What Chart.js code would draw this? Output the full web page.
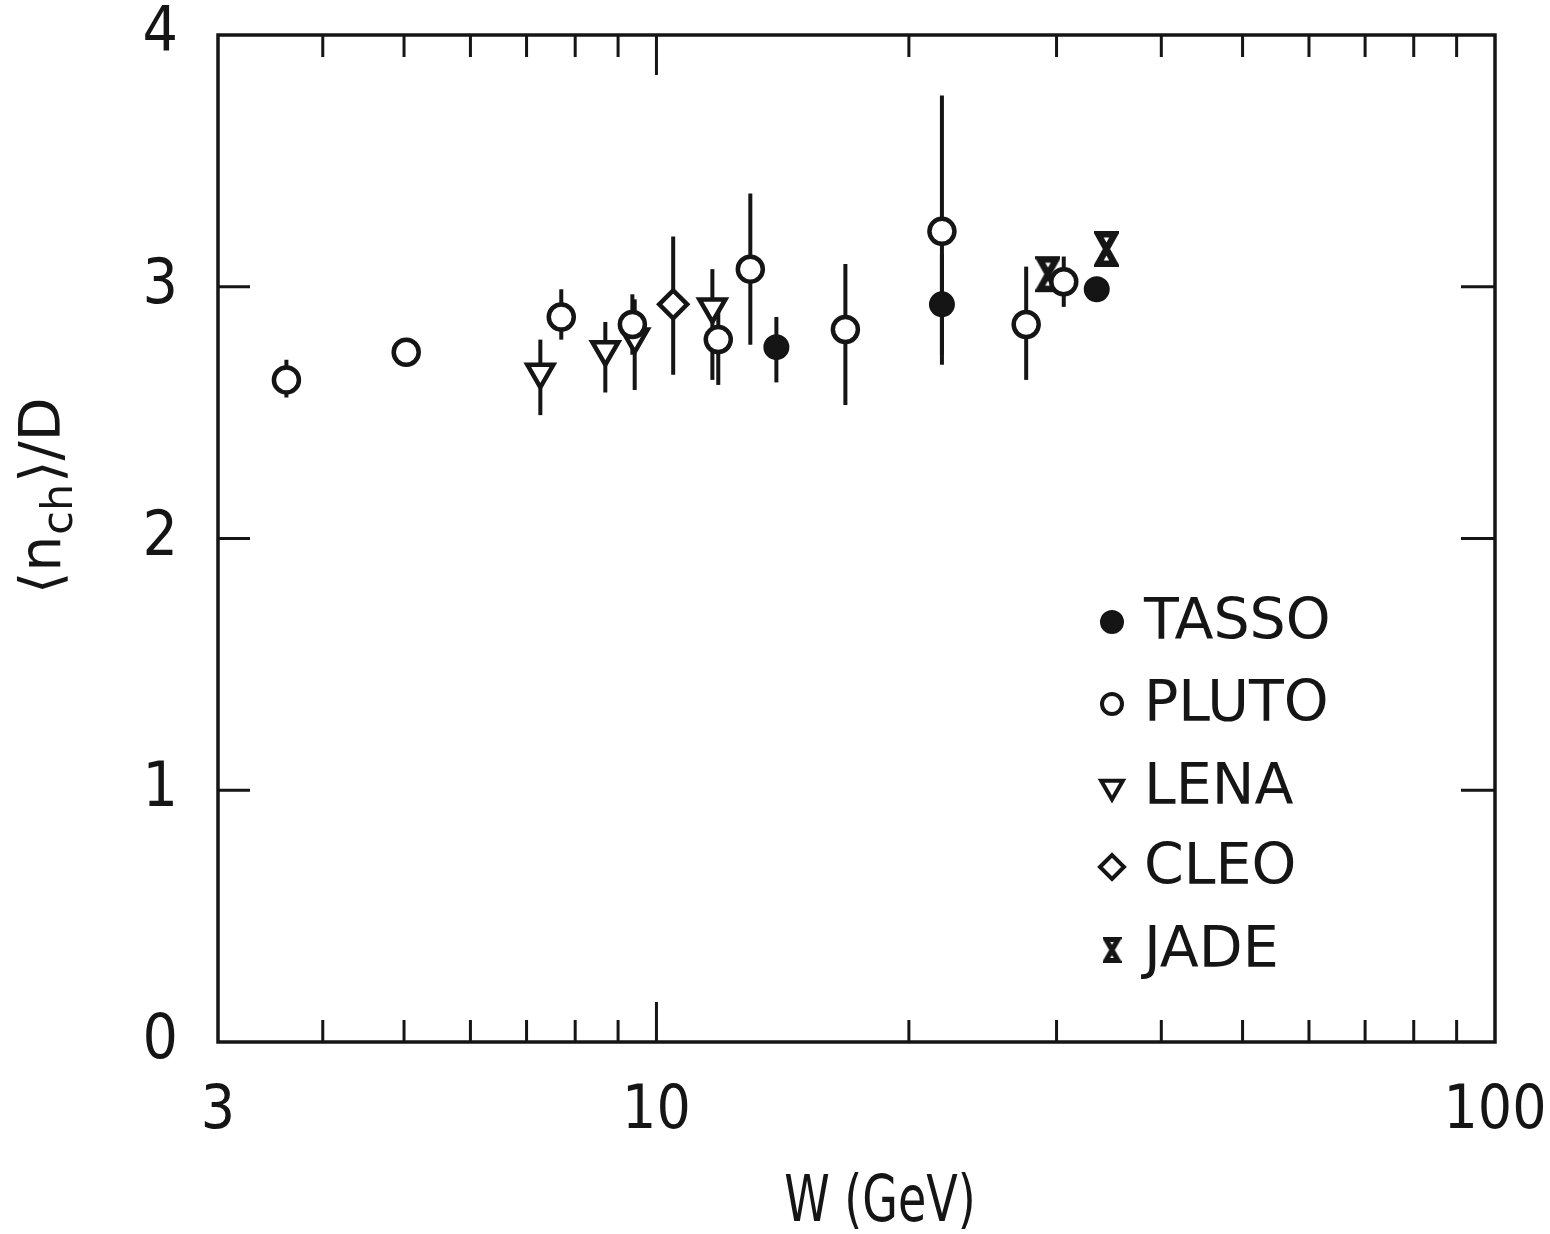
<!DOCTYPE html>
<html>
<head>
<meta charset="utf-8">
<title>nch / D vs W</title>
<script src="https://cdn.jsdelivr.net/npm/chart.js@4.4.1/dist/chart.umd.min.js"></script>
<style>
  html, body { margin: 0; padding: 0; background: #fff; }
  #chart_parent { width: 1550px; height: 1234px; }
</style>
</head>
<body>
<div id="chart_parent"><canvas id="nchChart"></canvas></div>
<script>
// ---- data (W in GeV, <n_ch>/D) ----
const tassoW = [13.9, 21.9, 33.5];
const tassoN = [2.76, 2.93, 2.99];
const tassoUp = [0.12, 0.20, 0.03];
const tassoDown = [0.14, 0.20, 0.03];

const plutoW = [3.62, 5.03, 7.70, 9.36, 11.85, 12.94, 16.8, 21.9, 27.6, 30.6];
const plutoN = [2.63, 2.74, 2.88, 2.85, 2.79, 3.07, 2.83, 3.22, 2.85, 3.02];
const plutoUp = [0.08, 0.03, 0.11, 0.12, 0.15, 0.30, 0.26, 0.54, 0.23, 0.10];
const plutoDown = [0.07, 0.03, 0.09, 0.12, 0.18, 0.30, 0.30, 0.53, 0.22, 0.10];

const lenaW = [7.27, 8.69, 9.42, 11.66];
const lenaN = [2.66, 2.75, 2.80, 2.92];
const lenaUp = [0.13, 0.11, 0.15, 0.15];
const lenaDown = [0.17, 0.17, 0.21, 0.29];

const cleoW = [10.47];
const cleoN = [2.93];
const cleoUp = [0.27];
const cleoDown = [0.28];

const jadeW = [29.3, 34.4];
const jadeN = [3.05, 3.15];
const jadeUp = [0, 0];
const jadeDown = [0, 0];

// axis ticks
const xLabelTicks = [3, 10, 100];
const xMinorTicks = [4, 5, 6, 7, 8, 9, 20, 30, 40, 50, 60, 70, 80, 90];
const xMajorTicks = [10];
const yTicks = [1, 2, 3];

const INK = '#151515';
const tickFont = "'Liberation Sans Narrow', 'DejaVu Sans Condensed', 'DejaVu Sans', sans-serif";
const textFont = "'DejaVu Sans', sans-serif";

// hourglass marker for JADE
function makeHourglass(w, h, lw) {
  const c = document.createElement('canvas');
  c.width = w;
  c.height = h;
  const g = c.getContext('2d');
  const p = lw / 2 + 1;
  g.strokeStyle = INK;
  g.fillStyle = '#fff';
  g.lineWidth = lw;
  g.lineJoin = 'miter';
  g.beginPath();
  g.moveTo(p, p);
  g.lineTo(w - p, p);
  g.lineTo(p, h - p);
  g.lineTo(w - p, h - p);
  g.closePath();
  g.fill();
  g.stroke();
  return c;
}
const jadeMarker = makeHourglass(25, 38, 6.5);
const jadeLegendMarker = makeHourglass(19, 28, 5);

function toPoints(ws, ns) {
  return ws.map((w, i) => ({ x: w, y: ns[i] }));
}

// error bars, drawn under the markers
const errorBarPlugin = {
  id: 'errorBars',
  beforeDatasetsDraw(chart) {
    const ctx = chart.ctx;
    const yScale = chart.scales.y;
    ctx.save();
    ctx.strokeStyle = INK;
    ctx.lineWidth = 4;
    chart.data.datasets.forEach((ds, di) => {
      const meta = chart.getDatasetMeta(di);
      ds.data.forEach((pt, i) => {
        const up = ds.errUp[i], down = ds.errDown[i];
        if (!up && !down) return;
        const px = meta.data[i].x;
        ctx.beginPath();
        ctx.moveTo(px, yScale.getPixelForValue(pt.y + up));
        ctx.lineTo(px, yScale.getPixelForValue(pt.y - down));
        ctx.stroke();
      });
    });
    ctx.restore();
  }
};

// frame, inward ticks, axis titles and legend
const framePlugin = {
  id: 'frame',
  afterDraw(chart) {
    const ctx = chart.ctx;
    const a = chart.chartArea;
    const xs = chart.scales.x, ys = chart.scales.y;
    ctx.save();
    ctx.strokeStyle = INK;
    ctx.lineWidth = 3.5;
    ctx.strokeRect(a.left, a.top, a.right - a.left, a.bottom - a.top);

    ctx.lineWidth = 3;
    ctx.beginPath();
    xMinorTicks.forEach(v => {
      const px = xs.getPixelForValue(v);
      ctx.moveTo(px, a.bottom); ctx.lineTo(px, a.bottom - 22);
      ctx.moveTo(px, a.top); ctx.lineTo(px, a.top + 22);
    });
    xMajorTicks.forEach(v => {
      const px = xs.getPixelForValue(v);
      ctx.moveTo(px, a.bottom); ctx.lineTo(px, a.bottom - 40);
      ctx.moveTo(px, a.top); ctx.lineTo(px, a.top + 40);
    });
    yTicks.forEach(v => {
      const py = ys.getPixelForValue(v);
      ctx.moveTo(a.left, py); ctx.lineTo(a.left + 32, py);
      ctx.moveTo(a.right, py); ctx.lineTo(a.right - 34, py);
    });
    ctx.stroke();

    // x axis title (narrow lettering like the original)
    ctx.save();
    ctx.fillStyle = INK;
    ctx.font = '64px ' + tickFont;
    ctx.textAlign = 'center';
    ctx.textBaseline = 'middle';
    ctx.translate(880, 1204);
    ctx.scale(0.8, 1);
    ctx.fillText('W (GeV)', 0, 0);
    ctx.restore();

    // y axis title: <n_ch>/D, rotated
    ctx.fillStyle = INK;
    ctx.translate(60, 594);
    ctx.rotate(-Math.PI / 2);
    ctx.textBaseline = 'alphabetic';
    ctx.textAlign = 'left';
    let cx = 0;
    const big = '57px ' + textFont, small = '43px ' + textFont;
    ctx.font = big;
    ctx.fillText('\u27E8n', cx, 0);
    cx += ctx.measureText('\u27E8n').width + 1;
    ctx.font = small;
    ctx.fillText('ch', cx, 12);
    cx += ctx.measureText('ch').width + 1;
    ctx.font = big;
    ctx.fillText('\u27E9/D', cx, 0);
    ctx.restore();

    // legend
    ctx.save();
    const rowY = [622, 704, 787, 867, 950];
    const markX = 1112, textX = 1144;
    const legendStyles = [
      { pointStyle: 'circle', radius: 11, borderWidth: 2, fill: INK },
      { pointStyle: 'circle', radius: 10, borderWidth: 4, fill: '#fff' },
      { pointStyle: 'triangle', radius: 12.5, rotation: 180, borderWidth: 4, fill: '#fff' },
      { pointStyle: 'rectRot', radius: 12, borderWidth: 4, fill: '#fff' },
      null
    ];
    chart.data.datasets.forEach((ds, i) => {
      const y = rowY[i];
      const st = legendStyles[i];
      if (st) {
        ctx.fillStyle = st.fill;
        ctx.strokeStyle = INK;
        ctx.lineWidth = st.borderWidth;
        Chart.helpers.drawPoint(ctx, st, markX, y);
      } else {
        ctx.drawImage(jadeLegendMarker, markX - jadeLegendMarker.width / 2, y - jadeLegendMarker.height / 2);
      }
      ctx.fillStyle = INK;
      ctx.font = '57px ' + textFont;
      ctx.textBaseline = 'middle';
      ctx.fillText(ds.label, textX, y + 2);
    });
    ctx.restore();
  }
};

const openStyle = {
  showLine: false,
  borderColor: INK,
  pointBackgroundColor: '#fff',
  pointBorderColor: INK,
  pointBorderWidth: 4.5,
  pointHoverRadius: 0
};

const ctx = document.getElementById('nchChart');
new Chart(ctx, {
  type: 'scatter',
  data: {
    datasets: [
      Object.assign({}, openStyle, {
        label: 'TASSO', data: toPoints(tassoW, tassoN), errUp: tassoUp, errDown: tassoDown,
        pointStyle: 'circle', pointRadius: 12, pointBackgroundColor: INK, pointBorderWidth: 2
      }),
      Object.assign({}, openStyle, {
        label: 'PLUTO', data: toPoints(plutoW, plutoN), errUp: plutoUp, errDown: plutoDown,
        pointStyle: 'circle', pointRadius: 12.5
      }),
      Object.assign({}, openStyle, {
        label: 'LENA', data: toPoints(lenaW, lenaN), errUp: lenaUp, errDown: lenaDown,
        pointStyle: 'triangle', pointRotation: 180, pointRadius: 15
      }),
      Object.assign({}, openStyle, {
        label: 'CLEO', data: toPoints(cleoW, cleoN), errUp: cleoUp, errDown: cleoDown,
        pointStyle: 'rectRot', pointRadius: 14
      }),
      Object.assign({}, openStyle, {
        label: 'JADE', data: toPoints(jadeW, jadeN), errUp: jadeUp, errDown: jadeDown,
        pointStyle: jadeMarker
      })
    ]
  },
  options: {
    responsive: true,
    maintainAspectRatio: false,
    animation: false,
    events: [],
    layout: { padding: { top: 35, right: 55, left: 0, bottom: 0 } },
    plugins: {
      legend: { display: false },
      tooltip: { enabled: false }
    },
    scales: {
      x: {
        type: 'logarithmic',
        min: 3,
        max: 100,
        grid: { display: false },
        border: { display: false },
        afterBuildTicks: (scale) => {
          scale.ticks = xLabelTicks.map(v => ({ value: v }));
        },
        afterFit: (scale) => {
          scale.height = 192;
          scale.paddingLeft = 0;
          scale.paddingRight = 0;
        },
        ticks: {
          color: INK,
          padding: 26,
          maxRotation: 0,
          autoSkip: false,
          font: { family: tickFont, size: 60 },
          callback: (v) => String(v)
        }
      },
      y: {
        min: 0,
        max: 4,
        grid: { display: false },
        border: { display: false },
        afterFit: (scale) => {
          scale.width = 218;
          scale.paddingTop = 0;
          scale.paddingBottom = 0;
        },
        ticks: {
          stepSize: 1,
          color: INK,
          padding: 32,
          font: { family: tickFont, size: 62 }
        }
      }
    }
  },
  plugins: [errorBarPlugin, framePlugin]
});
</script>
</body>
</html>
